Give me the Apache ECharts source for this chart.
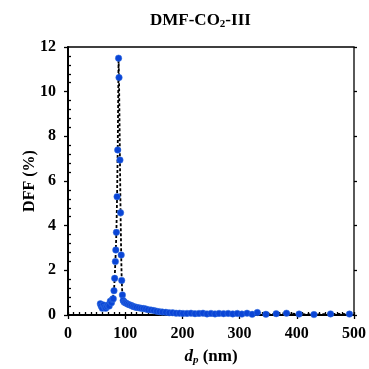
<!DOCTYPE html>
<html>
<head>
<meta charset="utf-8">
<script src="https://cdn.jsdelivr.net/npm/echarts@6/dist/echarts.min.js"></script>
<style>html,body{margin:0;padding:0;background:#fff}#c{width:369px;height:369px}</style>
</head>
<body>
<div id="c"></div>
<script>
var dp = [56.5, 58, 60, 62, 64, 66, 68, 70, 72, 74, 76, 77.8, 79.2, 80.4, 81.6, 82.8, 83.6, 84.6, 85.8, 86.9, 88.4, 89.2, 90.8, 91.9, 93.0, 93.9, 95.1, 96.5, 98, 100, 102.5, 105, 108, 111, 114, 117, 120, 124, 128, 132, 136, 140, 145, 150, 155, 160, 165, 171, 177, 183, 189, 195, 201, 208, 215, 222, 229, 236, 243, 250, 257, 264, 272, 280, 288, 296, 304, 313, 322, 331, 346, 364, 382, 404, 430, 459, 492];
var dff = [0.5, 0.4, 0.3, 0.45, 0.35, 0.3, 0.38, 0.45, 0.4, 0.62, 0.55, 0.7, 0.73, 1.09, 1.64, 2.39, 2.91, 3.70, 5.30, 7.39, 11.5, 10.63, 6.94, 4.58, 2.69, 1.55, 0.90, 0.65, 0.58, 0.55, 0.52, 0.48, 0.45, 0.42, 0.38, 0.36, 0.34, 0.32, 0.30, 0.29, 0.27, 0.24, 0.22, 0.20, 0.17, 0.15, 0.13, 0.12, 0.10, 0.10, 0.08, 0.08, 0.07, 0.07, 0.08, 0.06, 0.07, 0.08, 0.05, 0.07, 0.05, 0.07, 0.06, 0.07, 0.05, 0.07, 0.04, 0.08, 0.03, 0.11, 0.03, 0.06, 0.08, 0.04, 0.02, 0.05, 0.04];
var xTicks = [0, 100, 200, 300, 400, 500];
var yTicks = [0, 2, 4, 6, 8, 10, 12];

var FONT = '"Liberation Serif", "Times New Roman", serif';
var chart = echarts.init(document.getElementById('c'), null, {renderer: 'canvas'});
var pts = dp.map(function (x, i) { return [x, dff[i]]; });
var gridTop = 47, gridBottom = 54, gridH = 369 - gridTop - gridBottom;
var gridLeft = 68, gridRight = 15, gridW = 369 - gridLeft - gridRight;

function baseX(extra) {
  return Object.assign({
    type: 'value', min: xTicks[0], max: xTicks[xTicks.length - 1], interval: 100,
    splitLine: {show: false}
  }, extra);
}
function baseY(extra) {
  return Object.assign({
    type: 'value', min: yTicks[0], max: yTicks[yTicks.length - 1], interval: 2,
    splitLine: {show: false}
  }, extra);
}

chart.setOption({
  animation: false,
  backgroundColor: '#fff',
  title: {
    text: 'DMF-CO{sub|2}-III',
    left: 145, top: 7,
    textStyle: {
      fontFamily: FONT, fontWeight: 'bold', fontSize: 17, color: '#000',
      rich: {sub: {fontFamily: FONT, fontWeight: 'bold', fontSize: 11, color: '#000', verticalAlign: 'bottom', padding: [7, 0, 0, 0]}}
    }
  },
  grid: {left: gridLeft, right: gridRight, top: gridTop, bottom: gridBottom, show: true, borderColor: '#000', borderWidth: 1.3,
    containLabel: false, outerBoundsMode: 'none'},
  xAxis: [
    baseX({
      position: 'bottom',
      axisLine: {show: true, onZero: false, lineStyle: {color: '#000', width: 2}},
      axisTick: {show: true, inside: false, length: 4, lineStyle: {color: '#000', width: 1.3}},
      minorTick: {show: true, splitNumber: 10, length: -3, lineStyle: {color: '#000', width: 1.3}},
      axisLabel: {show: true, margin: 11, fontFamily: FONT, fontWeight: 'bold', fontSize: 16, color: '#000'},
      name: '{i|d}{s|p}{n| (nm)}',
      nameLocation: 'middle', nameGap: 33, nameMoveOverlap: false,
      nameTextStyle: {
        rich: {
          i: {fontFamily: FONT, fontStyle: 'italic', fontWeight: 'bold', fontSize: 17, color: '#000'},
          s: {fontFamily: FONT, fontStyle: 'italic', fontWeight: 'bold', fontSize: 11, color: '#000', verticalAlign: 'bottom', padding: [7, 0, 0, 0]},
          n: {fontFamily: FONT, fontWeight: 'bold', fontSize: 17, color: '#000'}
        }
      }
    }),
    baseX({
      position: 'top', offset: -gridH,
      axisLine: {show: false},
      axisTick: {show: true, inside: false, length: 3, lineStyle: {color: '#000', width: 1.3}},
      axisLabel: {show: false}
    })
  ],
  yAxis: [
    baseY({
      position: 'left',
      axisLine: {show: true, onZero: false, lineStyle: {color: '#000', width: 2}},
      axisTick: {show: true, inside: false, length: 4, lineStyle: {color: '#000', width: 1.3}},
      minorTick: {show: true, splitNumber: 5, length: -3, lineStyle: {color: '#000', width: 1.3}},
      axisLabel: {show: true, margin: 12, fontFamily: FONT, fontWeight: 'bold', fontSize: 16, color: '#000'},
      name: 'DFF (%)',
      nameLocation: 'middle', nameGap: 30, nameRotate: 90, nameMoveOverlap: false,
      nameTextStyle: {fontFamily: FONT, fontWeight: 'bold', fontSize: 16, color: '#000'}
    }),
    baseY({
      position: 'right', offset: -gridW,
      axisLine: {show: false},
      axisTick: {show: true, inside: false, length: 3, lineStyle: {color: '#000', width: 1.3}},
      axisLabel: {show: false}
    })
  ],
  series: [{
    type: 'line',
    xAxisIndex: 0, yAxisIndex: 0,
    data: pts,
    symbol: 'circle', symbolSize: 6.5,
    showAllSymbol: true,
    lineStyle: {color: '#000', width: 1.8, type: [3, 2]},
    itemStyle: {color: '#0a45d6', borderColor: '#3a74e0', borderWidth: 0.5},
    z: 3
  }]
});
</script>
</body>
</html>
